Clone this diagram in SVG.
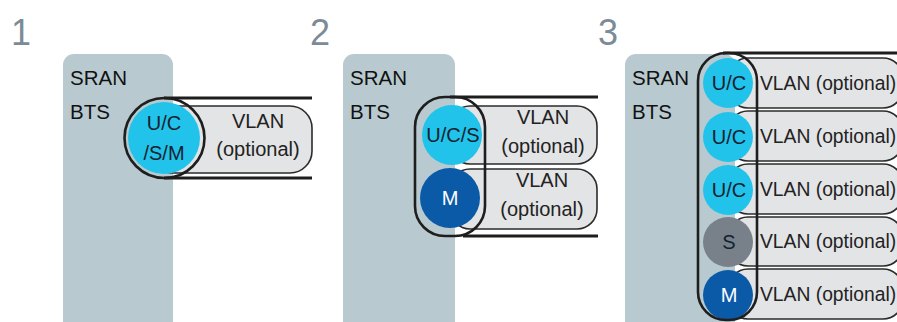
<svg xmlns="http://www.w3.org/2000/svg" width="897" height="322" viewBox="0 0 897 322">
<style>
.num{font-family:"Liberation Sans",Arial,sans-serif;font-size:36px;fill:#7b8b97}
.bts{fill:#b8cad0}
.lbl{font-family:"Liberation Sans",Arial,sans-serif;font-size:20.5px;fill:#111}
.pill{fill:#e3e4e6;stroke:#2b2b2b;stroke-width:1.6}
.vl{font-family:"Liberation Sans",Arial,sans-serif;font-size:20px;fill:#222;text-anchor:middle}
.vl3{font-family:"Liberation Sans",Arial,sans-serif;font-size:19.3px;fill:#222}
.ct{font-family:"Liberation Sans",Arial,sans-serif;font-size:20px;fill:#142230;text-anchor:middle}
.cw{font-family:"Liberation Sans",Arial,sans-serif;font-size:20px;fill:#ffffff;text-anchor:middle}
.uc{fill:#22c3ea}
.m{fill:#0b5aa8}
.s{fill:#78818a}
.rail{stroke:#1e1e1e;stroke-width:3;fill:none}
.outl{fill:none;stroke:#1e1e1e;stroke-width:2.6}
</style>

<!-- Panel 1 -->
<g id="panel1">
  <text class="num" x="11" y="45">1</text>
  <g id="bts1">
    <rect class="bts" x="63" y="54" width="110" height="290" rx="11"/>
    <text class="lbl" x="70" y="85">SRAN</text>
    <text class="lbl" x="70" y="119">BTS</text>
  </g>
  <g id="vlan1">
    <rect class="pill" x="150" y="106" width="162" height="67" rx="22"/>
    <text class="vl" x="258" y="128">VLAN</text>
    <text class="vl" x="258" y="156">(optional)</text>
  </g>
  <g id="connectors1">
    <line class="rail" x1="164" y1="98" x2="312" y2="98"/>
    <line class="rail" x1="164" y1="178" x2="312" y2="178"/>
  </g>
  <g id="ucsm1">
    <circle class="uc" cx="164" cy="138" r="36"/>
    <text class="ct" x="164" y="130">U/C</text>
    <text class="ct" x="164" y="160">/S/M</text>
    <circle class="outl" cx="164.5" cy="138" r="40"/>
  </g>
</g>

<!-- Panel 2 -->
<g id="panel2">
  <text class="num" x="310" y="45">2</text>
  <g id="bts2">
    <rect class="bts" x="343" y="54" width="112" height="290" rx="11"/>
    <text class="lbl" x="350" y="85">SRAN</text>
    <text class="lbl" x="350" y="119">BTS</text>
  </g>
  <g id="vlan2a">
    <rect class="pill" x="450" y="106" width="147" height="58" rx="20"/>
    <text class="vl" x="543" y="124">VLAN</text>
    <text class="vl" x="543" y="153">(optional)</text>
  </g>
  <g id="vlan2b">
    <rect class="pill" x="450" y="169" width="147" height="60" rx="20"/>
    <text class="vl" x="542" y="187">VLAN</text>
    <text class="vl" x="542" y="216">(optional)</text>
  </g>
  <g id="connectors2">
    <line class="rail" x1="450" y1="97" x2="598" y2="97"/>
    <line class="rail" x1="463" y1="236" x2="598" y2="236"/>
  </g>
  <g id="ucs2">
    <circle class="uc" cx="452" cy="135" r="30"/>
    <text class="ct" x="453" y="142">U/C/S</text>
  </g>
  <g id="m2">
    <circle class="m" cx="450" cy="198" r="30"/>
    <text class="cw" x="450" y="205">M</text>
  </g>
  <rect class="outl" x="415" y="97" width="70" height="139" rx="30"/>
</g>

<!-- Panel 3 -->
<g id="panel3">
  <text class="num" x="598" y="45">3</text>
  <g id="bts3">
    <rect class="bts" x="625" y="54" width="110" height="290" rx="11"/>
    <text class="lbl" x="632" y="85">SRAN</text>
    <text class="lbl" x="632" y="119">BTS</text>
  </g>
  <g id="vlan3a">
    <rect class="pill" x="728" y="58" width="175" height="50" rx="20"/>
    <text class="vl3" x="760" y="90">VLAN (optional)</text>
  </g>
  <g id="vlan3b">
    <rect class="pill" x="728" y="111" width="175" height="50" rx="20"/>
    <text class="vl3" x="760" y="143">VLAN (optional)</text>
  </g>
  <g id="vlan3c">
    <rect class="pill" x="728" y="164" width="175" height="50" rx="20"/>
    <text class="vl3" x="760" y="196">VLAN (optional)</text>
  </g>
  <g id="vlan3d">
    <rect class="pill" x="728" y="217" width="175" height="49" rx="20"/>
    <text class="vl3" x="760" y="248">VLAN (optional)</text>
  </g>
  <g id="vlan3e">
    <rect class="pill" x="728" y="269" width="175" height="50" rx="20"/>
    <text class="vl3" x="760" y="301">VLAN (optional)</text>
  </g>
  <g id="connectors3">
    <line class="rail" x1="723" y1="53" x2="897" y2="53"/>
  </g>
  <g id="uc3a">
    <circle class="uc" cx="728" cy="83" r="25"/>
    <text class="ct" x="729" y="90">U/C</text>
  </g>
  <g id="uc3b">
    <circle class="uc" cx="728" cy="137" r="25"/>
    <text class="ct" x="729" y="144">U/C</text>
  </g>
  <g id="uc3c">
    <circle class="uc" cx="728" cy="190" r="25"/>
    <text class="ct" x="729" y="197">U/C</text>
  </g>
  <g id="s3">
    <circle class="s" cx="728" cy="242" r="25"/>
    <text class="ct" x="729" y="249">S</text>
  </g>
  <g id="m3">
    <circle class="m" cx="728" cy="295" r="25"/>
    <text class="cw" x="729" y="302">M</text>
  </g>
  <rect class="outl" x="698" y="53" width="59" height="267" rx="28"/>
</g>
</svg>
